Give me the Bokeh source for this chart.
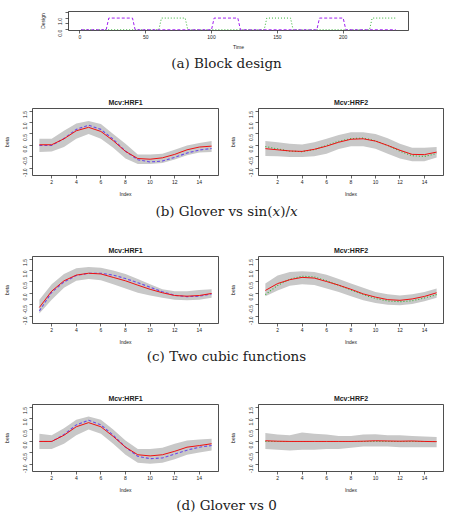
import math
from bokeh.plotting import figure
from bokeh.layouts import column, row
from bokeh.models import Div, FixedTicker, Range1d, PrintfTickFormatter
from bokeh.embed import file_html
from bokeh.resources import INLINE

# ---------------- data ----------------
# (a) block design: vertices of the two stimulus time courses
design_time_a = [1, 20, 22, 40, 42, 100, 102, 120, 122, 180, 182, 200, 202, 240]
design_val_a = [0, 0, 1, 1, 0, 0, 1, 1, 0, 0, 1, 1, 0, 0]
design_time_b = [1, 60, 62, 80, 82, 140, 142, 160, 162, 220, 222, 240]
design_val_b = [0, 0, 1, 1, 0, 0, 1, 1, 0, 0, 1, 1]

index = list(range(1, 16))

# (b) Glover vs sin(x)/x
b1_est = [0.03, 0.03, 0.29, 0.64, 0.79, 0.61, 0.21, -0.26, -0.57, -0.60, -0.54, -0.39, -0.19, -0.07, -0.03]
b1_true = [0.0, 0.0, 0.30, 0.70, 0.88, 0.70, 0.27, -0.25, -0.62, -0.72, -0.68, -0.52, -0.33, -0.20, -0.13]
b1_up = [0.29, 0.29, 0.64, 0.96, 1.07, 0.93, 0.50, 0.07, -0.39, -0.40, -0.36, -0.19, 0.0, 0.11, 0.19]
b1_lo = [-0.29, -0.26, -0.07, 0.29, 0.50, 0.29, -0.10, -0.57, -0.81, -0.81, -0.76, -0.61, -0.43, -0.31, -0.29]

b2_est = [-0.14, -0.19, -0.24, -0.26, -0.17, -0.03, 0.14, 0.27, 0.29, 0.19, 0.0, -0.21, -0.39, -0.40, -0.29]
b2_true = [-0.05, -0.15, -0.25, -0.27, -0.18, 0.0, 0.18, 0.30, 0.32, 0.20, 0.0, -0.25, -0.45, -0.48, -0.35]
b2_up = [0.19, 0.14, 0.07, 0.04, 0.14, 0.29, 0.46, 0.57, 0.57, 0.50, 0.31, 0.07, -0.10, -0.10, -0.07]
b2_lo = [-0.46, -0.47, -0.50, -0.50, -0.47, -0.36, -0.16, -0.04, -0.04, -0.14, -0.36, -0.57, -0.69, -0.69, -0.53]

# (c) two cubic functions
c1_est = [-0.61, 0.10, 0.55, 0.80, 0.88, 0.85, 0.70, 0.55, 0.36, 0.18, 0.03, -0.09, -0.12, -0.09, 0.0]
c1_true = [-0.76, 0.05, 0.50, 0.78, 0.88, 0.88, 0.80, 0.65, 0.47, 0.27, 0.07, -0.08, -0.14, -0.12, -0.02]
c1_up = [-0.27, 0.40, 0.85, 1.10, 1.15, 1.12, 1.00, 0.85, 0.63, 0.40, 0.18, 0.10, 0.10, 0.15, 0.18]
c1_lo = [-0.87, -0.27, 0.25, 0.55, 0.63, 0.58, 0.40, 0.21, 0.03, -0.09, -0.19, -0.27, -0.30, -0.27, -0.19]

c2_est = [0.13, 0.43, 0.60, 0.70, 0.67, 0.52, 0.36, 0.18, -0.02, -0.16, -0.27, -0.30, -0.24, -0.13, 0.03]
c2_true = [-0.05, 0.35, 0.62, 0.75, 0.72, 0.55, 0.36, 0.15, -0.05, -0.22, -0.33, -0.36, -0.32, -0.20, -0.05]
c2_up = [0.43, 0.78, 0.93, 0.97, 0.93, 0.81, 0.63, 0.43, 0.25, 0.06, -0.04, -0.09, -0.04, 0.06, 0.22]
c2_lo = [-0.12, 0.13, 0.33, 0.40, 0.37, 0.22, 0.06, -0.12, -0.30, -0.42, -0.49, -0.52, -0.46, -0.34, -0.19]

# (d) Glover vs 0
d1_est = [0.0, 0.0, 0.27, 0.64, 0.82, 0.64, 0.22, -0.25, -0.58, -0.63, -0.58, -0.43, -0.25, -0.18, -0.10]
d1_true = [0.0, 0.0, 0.30, 0.72, 0.92, 0.72, 0.27, -0.25, -0.65, -0.75, -0.72, -0.55, -0.38, -0.25, -0.18]
d1_up = [0.34, 0.27, 0.57, 0.94, 1.09, 0.94, 0.52, 0.04, -0.33, -0.33, -0.28, -0.10, 0.04, 0.09, 0.12]
d1_lo = [-0.33, -0.33, -0.10, 0.27, 0.52, 0.34, -0.10, -0.58, -0.93, -0.97, -0.93, -0.78, -0.58, -0.48, -0.40]

d2_est = [0.03, 0.01, 0.0, 0.0, 0.0, 0.0, 0.0, 0.0, 0.01, 0.03, 0.02, 0.01, 0.02, 0.0, -0.01]
d2_true = [0.0] * 15
d2_up = [0.37, 0.30, 0.27, 0.39, 0.34, 0.30, 0.24, 0.24, 0.30, 0.31, 0.27, 0.27, 0.24, 0.22, 0.19]
d2_lo = [-0.33, -0.36, -0.40, -0.36, -0.36, -0.33, -0.33, -0.28, -0.22, -0.22, -0.22, -0.25, -0.25, -0.25, -0.25]

x_ticks = [2, 4, 6, 8, 10, 12, 14]
y_ticks = [-1.0, -0.5, 0.0, 0.5, 1.0, 1.5]
design_x_ticks = [0, 50, 100, 150, 200]

# ---------------- styling ----------------
SANS = "Liberation Sans"
SERIF = "DejaVu Serif"
BAND = "#c8c8c8"
RED = "#ee1111"
BLUE = "#6a4ce8"
PURPLE = "#a020f0"
GREEN = "#33b033"


def r_axes(p, ylab_standoff=9, ylabel_standoff=4):
    p.background_fill_color = "white"
    p.border_fill_color = "white"
    p.outline_line_color = "#222222"
    p.outline_line_width = 0.8
    p.xgrid.visible = False
    p.ygrid.visible = False
    for ax in (p.xaxis[0], p.yaxis[0]):
        ax.axis_line_color = None
        ax.major_tick_line_color = "#222222"
        ax.major_tick_line_width = 0.7
        ax.major_tick_in = 0
        ax.major_tick_out = 3
        ax.minor_tick_line_color = None
        ax.major_label_text_font = SANS
        ax.major_label_text_font_size = "5px"
        ax.major_label_text_color = "#222222"
        ax.axis_label_text_font = SANS
        ax.axis_label_text_font_size = "5px"
        ax.axis_label_text_font_style = "normal"
        ax.axis_label_text_color = "#222222"
    p.xaxis[0].major_label_standoff = 1
    p.xaxis[0].axis_label_standoff = 4
    p.yaxis[0].major_label_orientation = math.pi / 2
    p.yaxis[0].major_label_standoff = ylabel_standoff
    p.yaxis[0].axis_label_standoff = ylab_standoff


def hrf_panel(title, up, lo, est, true, true_color, true_dash, left):
    w = 226 if left else 227
    p = figure(width=w, height=110, output_backend="svg", toolbar_location=None,
               x_range=Range1d(0.44, 15.56), y_range=Range1d(-1.31, 1.61),
               min_border_left=32 if left else 31, min_border_right=8 if left else 10,
               min_border_top=18, min_border_bottom=25,
               x_axis_label="Index", y_axis_label="beta", title=title)
    p.title.text_font = SANS
    p.title.text_font_size = "7px"
    p.title.text_font_style = "bold"
    p.title.align = "center"
    p.title.standoff = 5
    p.title.text_color = "#222222"
    r_axes(p)
    p.xaxis[0].ticker = FixedTicker(ticks=x_ticks)
    p.yaxis[0].ticker = FixedTicker(ticks=y_ticks)
    p.yaxis[0].formatter = PrintfTickFormatter(format="%.1f")
    p.varea(x=index, y1=lo, y2=up, fill_color=BAND, fill_alpha=1.0)
    p.line(index, true, line_color=true_color, line_dash=true_dash, line_width=1.1)
    p.line(index, est, line_color=RED, line_width=1.0)
    return p


# (a) block design
pa = figure(width=453, height=55, output_backend="svg", toolbar_location=None,
            x_range=Range1d(-8.6, 249.6), y_range=Range1d(-0.06, 1.56),
            min_border_left=68, min_border_right=45, min_border_top=11, min_border_bottom=25,
            x_axis_label="Time", y_axis_label="Design")
r_axes(pa, ylab_standoff=8, ylabel_standoff=5)
pa.xaxis[0].ticker = FixedTicker(ticks=design_x_ticks)
pa.yaxis[0].ticker = FixedTicker(ticks=[0.0, 0.5, 1.0, 1.5])
pa.yaxis[0].major_label_overrides = {0.0: "0.0", 0.5: "", 1.0: "1.0", 1.5: ""}
pa.xaxis[0].axis_label_standoff = 2
pa.line(design_time_b, design_val_b, line_color=GREEN, line_dash="1 2", line_width=1.0)
pa.line(design_time_a, design_val_a, line_color=PURPLE, line_dash="3 2", line_width=1.0)


def caption(html, height, pad):
    return Div(text=f'<div style="width:453px;text-align:center;font-family:\'{SERIF}\';'
                    f'font-size:13.5px;color:#222;line-height:16px;padding-top:{pad}px">{html}</div>',
               width=453, height=height, margin=(0, 0, 0, 0))


cap_a = caption("(a) Block design", 35, 0)
pb1 = hrf_panel("Mcv:HRF1", b1_up, b1_lo, b1_est, b1_true, BLUE, "3 2", True)
pb2 = hrf_panel("Mcv:HRF2", b2_up, b2_lo, b2_est, b2_true, GREEN, "1 2", False)
cap_b = caption("(b) Glover vs sin(<i>x</i>)/<i>x</i>", 38, 3)
pc1 = hrf_panel("Mcv:HRF1", c1_up, c1_lo, c1_est, c1_true, BLUE, "3 2", True)
pc2 = hrf_panel("Mcv:HRF2", c2_up, c2_lo, c2_est, c2_true, GREEN, "1 2", False)
cap_c = caption("(c) Two cubic functions", 38, 0)
pd1 = hrf_panel("Mcv:HRF1", d1_up, d1_lo, d1_est, d1_true, BLUE, "3 2", True)
pd2 = hrf_panel("Mcv:HRF2", d2_up, d2_lo, d2_est, d2_true, GREEN, "1 2", False)
cap_d = caption("(d) Glover vs 0", 23, 1)

layout = column(pa, cap_a, row(pb1, pb2, spacing=0), cap_b,
                row(pc1, pc2, spacing=0), cap_c,
                row(pd1, pd2, spacing=0), cap_d, spacing=0)

open("out.html", "w").write(file_html(layout, INLINE))
